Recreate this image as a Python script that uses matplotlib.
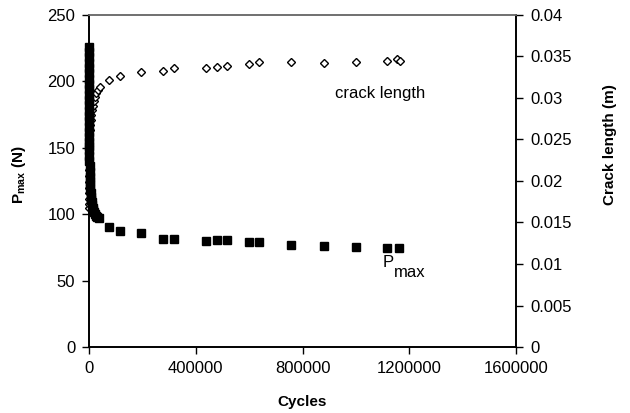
import matplotlib
matplotlib.use("Agg")
import matplotlib.pyplot as plt
from matplotlib.ticker import FuncFormatter

plt.rcParams['font.family'] = ['Liberation Sans', 'DejaVu Sans']
plt.rcParams['mathtext.fontset'] = 'custom'
plt.rcParams['mathtext.rm'] = 'Liberation Sans'
plt.rcParams['mathtext.bf'] = 'Liberation Sans:bold'

# Pmax (N) against cycles
pmax_cycles = [0, 20, 40, 60, 80, 100, 130, 160, 190, 220, 250, 280, 310, 340,
               370, 400, 430, 460, 490, 520,
               600, 1000, 1500, 2000, 2500, 3000, 3500, 4000, 5000, 6000, 7000,
               8000, 10000, 12000, 14000, 16000, 19000, 22000, 26000, 31000, 36000,
               76000, 116000, 196000, 276000, 317000, 438000, 478000, 518000,
               598000, 638000, 758000, 879000, 1000000, 1118000, 1160000]
pmax_values = [226, 222, 218, 214, 210, 206, 202, 198, 194, 190, 186, 182, 178, 174,
               170, 166, 162, 158, 154, 151,
               148, 144, 140, 136, 132, 128, 125, 122, 119, 116, 113,
               111, 109, 107, 105, 103.5, 102, 100.5, 99, 98, 97,
               90.6, 87.3, 86.0, 81.5, 81.0, 79.6, 80.3, 80.5,
               79.0, 79.2, 76.8, 76.3, 75.5, 74.3, 74.8]

# crack length (m) against cycles
crack_cycles = [0, 0, 50, 100, 150, 200, 300, 400, 500, 700, 900, 1200, 1500,
                2500, 4000, 6000, 8000, 11000, 14000, 18000, 22000, 27000, 32000,
                41000, 76000, 116000, 196000, 276000, 317000, 438000, 478000, 518000,
                598000, 638000, 758000, 879000, 1000000, 1118000, 1155000, 1165000]
crack_values = [0.0168, 0.0172, 0.0178, 0.0185, 0.0192, 0.0199, 0.0206, 0.0213,
                0.0220, 0.0228, 0.0236, 0.0245, 0.0254,
                0.0262, 0.0268, 0.0274, 0.0279, 0.0285, 0.0290, 0.0296, 0.0301,
                0.0306, 0.0310,
                0.0313, 0.0322, 0.0326, 0.0331, 0.0333, 0.0336, 0.0336, 0.0337, 0.0339,
                0.0341, 0.0343, 0.0343, 0.0342, 0.0343, 0.0344, 0.0347, 0.0345]

x_ticks = [0, 400000, 800000, 1200000, 1600000]
left_ticks = [0, 50, 100, 150, 200, 250]
right_ticks = [0, 0.005, 0.01, 0.015, 0.02, 0.025, 0.03, 0.035, 0.04]

fig = plt.figure(figsize=(6.3, 4.13), dpi=100)
ax = fig.add_axes([0.1413, 0.1598, 0.6778, 0.8039])
ax2 = ax.twinx()
# squares drawn over the diamonds
ax.set_zorder(ax2.get_zorder() + 1)
ax.patch.set_visible(False)

ax.plot(pmax_cycles, pmax_values, linestyle='none', marker='s', markersize=6,
        color='black', clip_on=False)
ax2.plot(crack_cycles, crack_values, linestyle='none', marker='D', markersize=4.5,
         markerfacecolor='white', markeredgecolor='black', markeredgewidth=1.0,
         clip_on=False)

ax.set_xlim(0, 1600000)
ax.set_ylim(0, 250)
ax2.set_ylim(0, 0.04)
ax.set_xticks(x_ticks)
ax.set_yticks(left_ticks)
ax2.set_yticks(right_ticks)
ax.xaxis.set_major_formatter(FuncFormatter(lambda v, p: '%d' % v))
ax2.yaxis.set_major_formatter(FuncFormatter(lambda v, p: '%g' % v))

for a in (ax, ax2):
    for side in ('left', 'right', 'bottom'):
        a.spines[side].set_linewidth(1.2)
        a.spines[side].set_color('black')
    a.spines['top'].set_color('#707070')
    a.spines['top'].set_linewidth(1.2)
    a.tick_params(labelsize=12, length=5, width=1, direction='out', pad=5)

ax.set_xlabel('Cycles', fontsize=11, fontweight='bold')
ax.xaxis.set_label_coords(0.5, -0.145)
ax.set_ylabel(r'$\mathbf{P}_{\mathbf{max}}$ $\mathbf{(N)}$', fontsize=11)
ax.yaxis.set_label_coords(-0.143, 0.518)
ax2.set_ylabel('Crack length (m)', fontsize=11, fontweight='bold')
ax2.yaxis.set_label_coords(1.204, 0.611)

ax.text(1090000, 191, 'crack length', fontsize=12, ha='center', va='center')
ax.text(1100000, 64, 'P', fontsize=12, ha='left', va='center')
ax.annotate('max', xy=(1100000, 64), xytext=(8, -7.5), textcoords='offset points',
            fontsize=12, ha='left', va='center')

fig.savefig('out.png', dpi=100)
